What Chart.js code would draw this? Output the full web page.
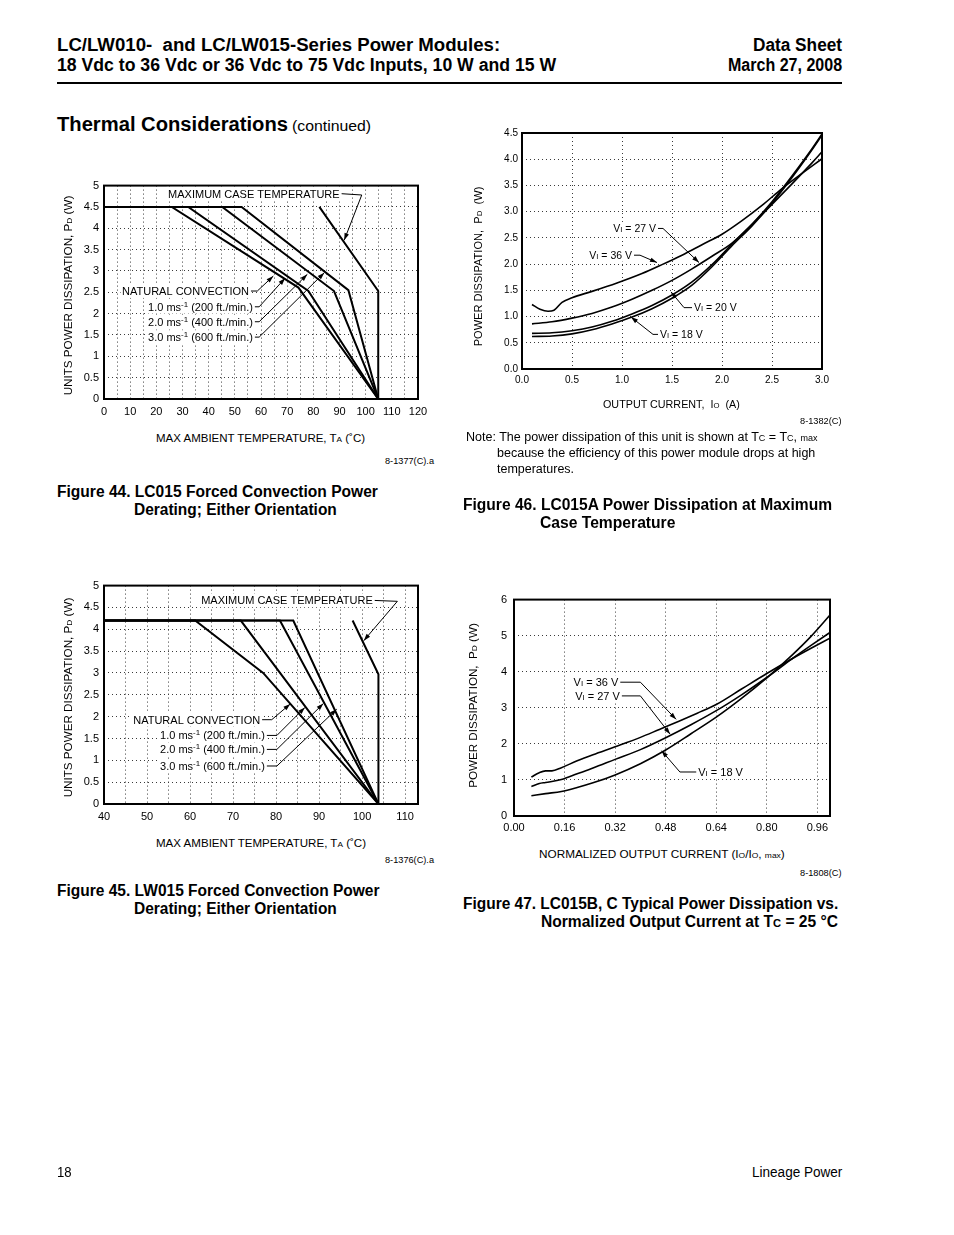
<!DOCTYPE html>
<html><head><meta charset="utf-8">
<script src="https://cdn.jsdelivr.net/npm/chart.js@4.4.1/dist/chart.umd.min.js"></script>
<style>
html,body{margin:0;padding:0;background:#fff;}
body{width:954px;height:1235px;position:relative;overflow:hidden;font-family:"Liberation Sans",Arial,Helvetica,sans-serif;color:#000;}
.t,.r{position:absolute;white-space:pre;line-height:1;left:0;top:0;}
.t{transform-origin:0 50%;}
.r{transform-origin:50% 50%;}
.s{font-size:0.72em;}
.b{font-weight:bold;}
canvas{position:absolute;}
.hr{position:absolute;left:57px;top:82px;width:785px;height:2px;background:#000;}
</style></head><body>

<canvas id="c44"></canvas>
<canvas id="c46"></canvas>
<canvas id="c45"></canvas>
<canvas id="c47"></canvas>

<div class="t b" data-x="57" data-y="45" data-w="443" style="font-size:18px">LC/LW010-  and LC/LW015-Series Power Modules:</div>
<div class="t b" data-x="57" data-y="65" data-w="499" style="font-size:18px">18 Vdc to 36 Vdc or 36 Vdc to 75 Vdc Inputs, 10 W and 15 W</div>
<div class="t b" data-x="753" data-y="45" data-w="89" style="font-size:18px">Data Sheet</div>
<div class="t b" data-x="728" data-y="65" data-w="114" style="font-size:18px">March 27, 2008</div>
<div class="hr"></div>
<div class="t b" data-x="57" data-y="124" data-w="231" style="font-size:20px">Thermal Considerations</div>
<div class="t" data-x="292" data-y="125" data-w="79" style="font-size:15px">(continued)</div>

<div class="t" data-x="156" data-y="438" data-w="209" style="font-size:11px">MAX AMBIENT TEMPERATURE, T<span class="s">A</span> (˚C)</div>
<div class="t" data-x="385" data-y="461" data-w="49" style="font-size:9px">8-1377(C).a</div>
<div class="r" data-x="68" data-y="295" data-w="200" style="font-size:11px">UNITS POWER DISSIPATION, P<span class="s">D</span> (W)</div>
<div class="t b" data-x="57" data-y="492" data-w="321" style="font-size:16px">Figure 44. LC015 Forced Convection Power</div>
<div class="t b" data-x="134" data-y="510" data-w="203" style="font-size:16px">Derating; Either Orientation</div>

<div class="r" data-x="478" data-y="266" data-w="160" style="font-size:11px">POWER DISSIPATION,  P<span class="s">D</span>  (W)</div>
<div class="t" data-x="603" data-y="404" data-w="137" style="font-size:11px">OUTPUT CURRENT,  I<span class="s">O</span>  (A)</div>
<div class="t" data-x="800" data-y="421" data-w="42" style="font-size:9px">8-1382(C)</div>
<div class="t" data-x="466" data-y="437" data-w="352" style="font-size:12px">Note: The power dissipation of this unit is shown at T<span class="s">C</span> = T<span class="s">C</span>, <span class="s">max</span></div>
<div class="t" data-x="497" data-y="453" data-w="318" style="font-size:12px">because the efficiency of this power module drops at high</div>
<div class="t" data-x="497" data-y="469" data-w="77" style="font-size:12px">temperatures.</div>
<div class="t b" data-x="463" data-y="505" data-w="369" style="font-size:16px">Figure 46. LC015A Power Dissipation at Maximum</div>
<div class="t b" data-x="540" data-y="523" data-w="135" style="font-size:16px">Case Temperature</div>

<div class="t" data-x="156" data-y="843" data-w="210" style="font-size:11px">MAX AMBIENT TEMPERATURE, T<span class="s">A</span> (˚C)</div>
<div class="t" data-x="385" data-y="860" data-w="49" style="font-size:9px">8-1376(C).a</div>
<div class="r" data-x="68" data-y="697" data-w="200" style="font-size:11px">UNITS POWER DISSIPATION, P<span class="s">D</span> (W)</div>
<div class="t b" data-x="57" data-y="891" data-w="323" style="font-size:16px">Figure 45. LW015 Forced Convection Power</div>
<div class="t b" data-x="134" data-y="909" data-w="203" style="font-size:16px">Derating; Either Orientation</div>

<div class="r" data-x="474" data-y="705" data-w="165" style="font-size:11px">POWER DISSIPATION,  P<span class="s">D</span> (W)</div>
<div class="t" data-x="539" data-y="854" data-w="246" style="font-size:11px">NORMALIZED OUTPUT CURRENT (I<span class="s">O</span>/I<span class="s">O</span>, <span class="s">max</span>)</div>
<div class="t" data-x="800" data-y="873" data-w="42" style="font-size:9px">8-1808(C)</div>
<div class="t b" data-x="463" data-y="904" data-w="375" style="font-size:16px">Figure 47. LC015B, C Typical Power Dissipation vs.</div>
<div class="t b" data-x="541" data-y="922" data-w="297" style="font-size:16px">Normalized Output Current at T<span class="s">C</span> = 25 °C</div>

<div class="t" data-x="57" data-y="1172" data-w="15" style="font-size:14px">18</div>
<div class="t" data-x="752" data-y="1172" data-w="90" style="font-size:14px">Lineage Power</div>

<script>
// ---------- DATA ----------
// Figure 44 (LC015 derating), x = ambient temperature (°C), y = power dissipation (W)
const f44NatX = [0, 25.9, 74.3, 104.8];
const f44NatY = [4.5, 4.5, 2.61, 0];
const f44Ms1X = [0, 32.2, 78.1, 104.8];
const f44Ms1Y = [4.5, 4.5, 2.53, 0];
const f44Ms2X = [0, 45.2, 87.9, 104.8];
const f44Ms2Y = [4.5, 4.5, 2.53, 0];
const f44Ms3X = [0, 52.6, 93.4, 104.8];
const f44Ms3Y = [4.5, 4.5, 2.55, 0];
const f44CaseX = [82.3, 104.8, 104.8];
const f44CaseY = [4.5, 2.53, 0];
const f44XTicks = [0, 10, 20, 30, 40, 50, 60, 70, 80, 90, 100, 110, 120];
const f44YTicks = [0, 0.5, 1, 1.5, 2, 2.5, 3, 3.5, 4, 4.5, 5];

// Figure 45 (LW015 derating)
const f45NatX = [40, 61.2, 77.0, 103.8];
const f45NatY = [4.2, 4.2, 3.0, 0];
const f45Ms1X = [40, 71.8, 103.8];
const f45Ms1Y = [4.2, 4.2, 0];
const f45Ms2X = [40, 80.9, 103.8];
const f45Ms2Y = [4.2, 4.2, 0];
const f45Ms3X = [40, 84.0, 103.8];
const f45Ms3Y = [4.2, 4.2, 0];
const f45CaseX = [97.8, 103.8, 103.8];
const f45CaseY = [4.2, 2.97, 0];
const f45XTicks = [40, 50, 60, 70, 80, 90, 100, 110];
const f45YTicks = [0, 0.5, 1, 1.5, 2, 2.5, 3, 3.5, 4, 4.5, 5];

// Figure 46 (LC015A), x = output current (A), y = power dissipation (W)
const f46V36X = [0.10, 0.18, 0.26, 0.32, 0.40, 0.50, 0.70, 0.95, 1.20, 1.40, 1.60, 1.80, 2.00, 2.20, 2.40, 2.60, 2.80, 3.00];
const f46V36Y = [1.23, 1.14, 1.10, 1.12, 1.27, 1.36, 1.48, 1.64, 1.82, 1.99, 2.17, 2.37, 2.57, 2.83, 3.12, 3.44, 3.73, 4.01];
const f46V27X = [0.10, 0.30, 0.50, 0.70, 0.90, 1.10, 1.30, 1.50, 1.70, 1.90, 2.10, 2.30, 2.50, 2.70, 2.90, 3.00];
const f46V27Y = [0.86, 0.90, 0.97, 1.06, 1.18, 1.33, 1.50, 1.69, 1.91, 2.15, 2.40, 2.76, 3.14, 3.53, 3.93, 4.14];
const f46V20X = [0.10, 0.30, 0.50, 0.70, 0.90, 1.10, 1.30, 1.50, 1.70, 1.90, 2.10, 2.30, 2.50, 2.70, 2.90, 3.00];
const f46V20Y = [0.68, 0.69, 0.73, 0.80, 0.91, 1.05, 1.21, 1.41, 1.66, 1.99, 2.38, 2.76, 3.19, 3.68, 4.20, 4.48];
const f46V18X = [0.10, 0.30, 0.50, 0.70, 0.90, 1.10, 1.30, 1.50, 1.70, 1.90, 2.10, 2.30, 2.50, 2.70, 2.90, 3.00];
const f46V18Y = [0.62, 0.63, 0.67, 0.75, 0.86, 0.99, 1.15, 1.35, 1.60, 1.95, 2.35, 2.73, 3.16, 3.65, 4.18, 4.46];
const f46XTicks = ['0.0', '0.5', '1.0', '1.5', '2.0', '2.5', '3.0'];
const f46YTicks = ['0.0', '0.5', '1.0', '1.5', '2.0', '2.5', '3.0', '3.5', '4.0', '4.5'];

// Figure 47 (LC015B, C), x = normalized output current, y = power dissipation (W)
const f47V36X = [0.055, 0.08, 0.10, 0.12, 0.15, 0.20, 0.25, 0.32, 0.40, 0.46, 0.52, 0.58, 0.64, 0.72, 0.80, 0.88, 0.94, 1.00];
const f47V36Y = [1.08, 1.20, 1.25, 1.25, 1.34, 1.53, 1.70, 1.92, 2.18, 2.40, 2.62, 2.85, 3.09, 3.52, 3.95, 4.36, 4.65, 4.93];
const f47V27X = [0.055, 0.08, 0.10, 0.15, 0.20, 0.25, 0.32, 0.40, 0.48, 0.56, 0.64, 0.72, 0.80, 0.88, 0.94, 1.00];
const f47V27Y = [0.82, 0.90, 0.93, 1.01, 1.17, 1.33, 1.57, 1.84, 2.17, 2.53, 2.92, 3.36, 3.84, 4.36, 4.73, 5.09];
const f47V18X = [0.055, 0.10, 0.15, 0.20, 0.25, 0.32, 0.40, 0.48, 0.56, 0.64, 0.72, 0.80, 0.88, 0.94, 1.00];
const f47V18Y = [0.56, 0.62, 0.68, 0.79, 0.92, 1.14, 1.45, 1.83, 2.28, 2.74, 3.26, 3.83, 4.46, 4.98, 5.57];
const f47XTicks = ['0.00', '0.16', '0.32', '0.48', '0.64', '0.80', '0.96'];
const f47YTicks = ['0', '1', '2', '3', '4', '5', '6'];

// ---------- TEXT LAYOUT ----------
document.querySelectorAll('.t').forEach(el => {
  const x = +el.dataset.x, y = +el.dataset.y, w = +el.dataset.w;
  const s = w / el.offsetWidth;
  el.style.left = x + 'px'; el.style.top = y + 'px';
  el.style.transform = 'translateY(-50%) scaleX(' + s + ')';
});
document.querySelectorAll('.r').forEach(el => {
  const x = +el.dataset.x, y = +el.dataset.y, w = +el.dataset.w;
  const nw = el.offsetWidth, nh = el.offsetHeight;
  const s = w / nw;
  el.style.left = (x - nw / 2) + 'px'; el.style.top = (y - nh / 2) + 'px';
  el.style.transform = 'rotate(-90deg) scaleX(' + s + ')';
});

// ---------- CHARTS ----------
const FONT = '"Liberation Sans", Arial, Helvetica, sans-serif';
Chart.defaults.font.family = FONT;
Chart.defaults.color = '#000';

const framePlugin = {
  id: 'frame',
  afterDatasetsDraw(chart) {
    const { ctx, chartArea: a } = chart;
    ctx.save();
    ctx.lineWidth = 2; ctx.strokeStyle = '#000';
    ctx.strokeRect(a.left, a.top, a.right - a.left, a.bottom - a.top);
    ctx.restore();
  }
};

function notesPlugin(items, size) {
  return {
    id: 'notes',
    afterDatasetsDraw(chart) {
      const ctx = chart.ctx, xs = chart.scales.x, ys = chart.scales.y;
      ctx.save();
      ctx.strokeStyle = '#000'; ctx.lineWidth = 1;
      ctx.textAlign = 'left'; ctx.textBaseline = 'alphabetic';
      for (const n of items) {
        const px = xs.getPixelForValue(n.x), py = ys.getPixelForValue(n.y);
        const segs = n.parts.map(p => {
          const s = typeof p === 'string' ? { t: p } : p;
          const fs = (s.small || s.sup) ? size * 0.72 : size;
          ctx.font = fs + 'px ' + FONT;
          return { t: s.t, sup: !!s.sup, fs, w: ctx.measureText(s.t).width };
        });
        const tw = segs.reduce((a, s) => a + s.w, 0);
        let cx = n.align === 'right' ? px - tw : px;
        // white backing so the dotted grid does not run through the label
        ctx.fillStyle = '#fff';
        ctx.fillRect(cx - 1.5, py - size * 0.62, tw + 3, size * 1.24);
        ctx.fillStyle = '#000';
        const base = py + size * 0.36;
        for (const s of segs) {
          ctx.font = s.fs + 'px ' + FONT;
          ctx.fillText(s.t, cx, s.sup ? base - size * 0.38 : base);
          cx += s.w;
        }
        if (n.path) {
          let sx;
          if (n.align === 'right') sx = px + 2;
          else if (n.from === 'end') sx = px + tw + 2;
          else sx = px - 2;
          const pts = [[sx, py]].concat(n.path.map(([a, b]) => [xs.getPixelForValue(a), ys.getPixelForValue(b)]));
          ctx.beginPath(); ctx.moveTo(pts[0][0], pts[0][1]);
          for (let i = 1; i < pts.length; i++) ctx.lineTo(pts[i][0], pts[i][1]);
          ctx.stroke();
          const [x2, y2] = pts[pts.length - 1], [x1, y1] = pts[pts.length - 2];
          const ang = Math.atan2(y2 - y1, x2 - x1), L = 7, W = 2.3;
          ctx.beginPath(); ctx.moveTo(x2, y2);
          ctx.lineTo(x2 - L * Math.cos(ang) + W * Math.sin(ang), y2 - L * Math.sin(ang) - W * Math.cos(ang));
          ctx.lineTo(x2 - L * Math.cos(ang) - W * Math.sin(ang), y2 - L * Math.sin(ang) + W * Math.cos(ang));
          ctx.closePath(); ctx.fill();
        }
      }
      ctx.restore();
    }
  };
}

function labelFrom(list, v) {
  for (const l of list) { if (Math.abs(parseFloat(l) - v) < 1e-6) return String(l); }
  return '';
}

function makeChart(id, box, sx, sy, series, notes, noteSize, lw, smooth) {
  const cv = document.getElementById(id);
  const L = 45, T = 10, R = 20, B = 30;
  cv.width = box.w + L + R; cv.height = box.h + T + B;
  cv.style.left = (box.l - L) + 'px'; cv.style.top = (box.t - T) + 'px';
  const axis = (o, isX) => ({
    type: 'linear', min: o.min, max: o.max,
    afterFit(s) { if (isX) s.height = 25; else s.width = 40; },
    ticks: {
      stepSize: o.step, includeBounds: false, autoSkip: false, maxRotation: 0,
      padding: o.pad, font: { size: o.font }, color: '#000',
      callback: v => labelFrom(o.labels, v)
    },
    grid: { color: '#3a3a3a', lineWidth: 1, drawTicks: false },
    border: { display: false, dash: [1, 3] }
  });
  return new Chart(cv, {
    type: 'line',
    data: {
      datasets: series.map(s => ({
        data: s.x.map((v, i) => ({ x: v, y: s.y[i] })),
        borderColor: '#000', borderWidth: lw, pointRadius: 0, fill: false,
        tension: smooth ? 0.4 : 0, cubicInterpolationMode: smooth ? 'monotone' : 'default'
      }))
    },
    options: {
      responsive: false, animation: false, devicePixelRatio: 1,
      layout: { padding: { left: 5, top: T, right: R, bottom: 5 } },
      plugins: { legend: { display: false }, tooltip: { enabled: false } },
      scales: { x: axis(sx, true), y: axis(sy, false) }
    },
    plugins: [framePlugin, notesPlugin(notes, noteSize)]
  });
}

const ms = (n, ft) => [n + ' ms', { t: '-1', sup: true }, ' (' + ft + ' ft./min.)'];
const vi = v => ['V', { t: 'I', small: true }, ' = ' + v + ' V'];

// Figure 44
makeChart('c44', { l: 104, t: 184, w: 314, h: 215 },
  { min: 0, max: 120, step: 5, pad: 6, font: 11, labels: f44XTicks },
  { min: 0, max: 5, step: 0.5, pad: 5, font: 11, labels: f44YTicks },
  [ { x: f44NatX, y: f44NatY }, { x: f44Ms1X, y: f44Ms1Y }, { x: f44Ms2X, y: f44Ms2Y },
    { x: f44Ms3X, y: f44Ms3Y }, { x: f44CaseX, y: f44CaseY } ],
  [
    { parts: ['MAXIMUM CASE TEMPERATURE'], x: 24.5, y: 4.81, align: 'left', from: 'end', path: [[98.5, 4.78], [91.8, 3.72]] },
    { parts: ['NATURAL CONVECTION'], x: 55.4, y: 2.53, align: 'right', path: [[58.6, 2.53], [64.7, 2.88]] },
    { parts: ms('1.0', '200'), x: 56.9, y: 2.16, align: 'right', path: [[59.3, 2.16], [69.2, 2.83]] },
    { parts: ms('2.0', '400'), x: 56.9, y: 1.81, align: 'right', path: [[59.3, 1.81], [77.7, 2.92]] },
    { parts: ms('3.0', '600'), x: 56.9, y: 1.45, align: 'right', path: [[59.3, 1.45], [84.2, 2.96]] }
  ], 11, 2, false);

// Figure 45
makeChart('c45', { l: 104, t: 584, w: 314, h: 220 },
  { min: 40, max: 113, step: 5, pad: 6, font: 11, labels: f45XTicks },
  { min: 0, max: 5, step: 0.5, pad: 5, font: 11, labels: f45YTicks },
  [ { x: f45NatX, y: f45NatY }, { x: f45Ms1X, y: f45Ms1Y }, { x: f45Ms2X, y: f45Ms2Y },
    { x: f45Ms3X, y: f45Ms3Y }, { x: f45CaseX, y: f45CaseY } ],
  [
    { parts: ['MAXIMUM CASE TEMPERATURE'], x: 62.6, y: 4.66, align: 'left', from: 'end', path: [[108.2, 4.64], [100.4, 3.74]] },
    { parts: ['NATURAL CONVECTION'], x: 76.3, y: 1.93, align: 'right', path: [[79.0, 1.93], [83.3, 2.29]] },
    { parts: ms('1.0', '200'), x: 77.4, y: 1.57, align: 'right', path: [[80.2, 1.57], [86.7, 2.21]] },
    { parts: ms('2.0', '400'), x: 77.4, y: 1.25, align: 'right', path: [[80.2, 1.25], [91.0, 2.30]] },
    { parts: ms('3.0', '600'), x: 77.4, y: 0.87, align: 'right', path: [[80.2, 0.87], [94.1, 2.17]] }
  ], 11, 2, false);

// Figure 46
makeChart('c46', { l: 522, t: 133, w: 300, h: 236 },
  { min: 0, max: 3, step: 0.5, pad: 5, font: 10, labels: f46XTicks },
  { min: 0, max: 4.5, step: 0.5, pad: 4, font: 10, labels: f46YTicks },
  [ { x: f46V36X, y: f46V36Y }, { x: f46V27X, y: f46V27Y }, { x: f46V20X, y: f46V20Y }, { x: f46V18X, y: f46V18Y } ],
  [
    { parts: vi(27), x: 1.34, y: 2.68, align: 'right', path: [[1.41, 2.68], [1.77, 2.03]] },
    { parts: vi(36), x: 1.10, y: 2.17, align: 'right', path: [[1.18, 2.17], [1.35, 2.03]] },
    { parts: vi(20), x: 1.72, y: 1.17, align: 'left', from: 'start', path: [[1.62, 1.17], [1.49, 1.47]] },
    { parts: vi(18), x: 1.38, y: 0.66, align: 'left', from: 'start', path: [[1.31, 0.66], [1.09, 0.99]] }
  ], 10.5, 1.6, true);

// Figure 47
makeChart('c47', { l: 514, t: 596, w: 316, h: 220 },
  { min: 0, max: 1.0, step: 0.16, pad: 5, font: 11, labels: f47XTicks },
  { min: 0, max: 6, step: 1, pad: 7, font: 11, labels: f47YTicks },
  [ { x: f47V36X, y: f47V36Y }, { x: f47V27X, y: f47V27Y }, { x: f47V18X, y: f47V18Y } ],
  [
    { parts: vi(36), x: 0.33, y: 3.71, align: 'right', path: [[0.40, 3.71], [0.513, 2.68]] },
    { parts: vi(27), x: 0.335, y: 3.33, align: 'right', path: [[0.40, 3.33], [0.494, 2.27]] },
    { parts: vi(18), x: 0.583, y: 1.22, align: 'left', from: 'start', path: [[0.525, 1.22], [0.467, 1.81]] }
  ], 11, 1.6, true);
</script>
</body></html>
